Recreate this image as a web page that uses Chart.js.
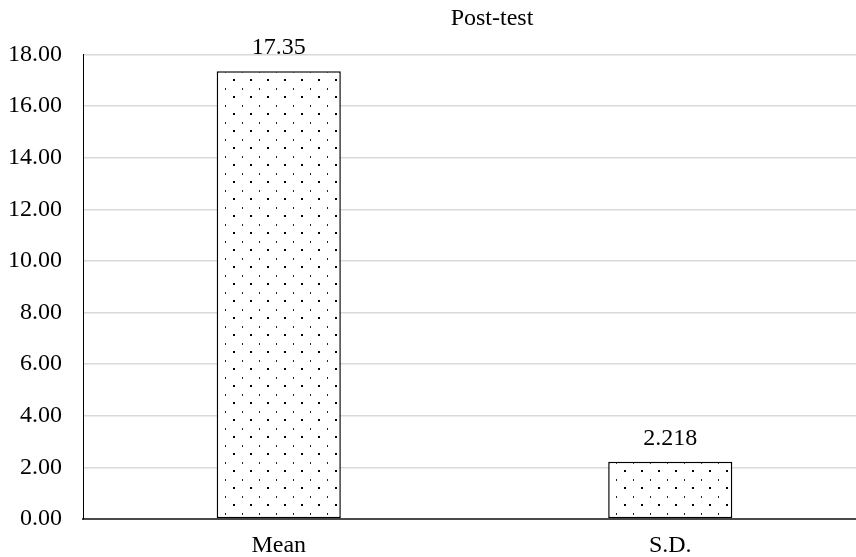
<!DOCTYPE html>
<html>
<head>
<meta charset="utf-8">
<script src="https://cdn.jsdelivr.net/npm/chart.js@4/dist/chart.umd.min.js"></script>
<style>
  html, body { margin: 0; padding: 0; background: #fff; overflow: hidden; }
  #wrap { width: 866px; height: 557px; }
</style>
</head>
<body>
<div id="wrap"><canvas id="myChart" width="866" height="557"></canvas></div>
<script>
const chartTitle = "Post-test";
const categories = ["Mean", "S.D."];
const values = [17.35, 2.218];
const valueLabels = ["17.35", "2.218"];
const yMin = 0;
const yMax = 18;
const yStep = 2;

const fontFamily = "'Liberation Serif', 'Times New Roman', serif";

// dotted fill like the office "5%" pattern
const makePattern = () => {
  const c = document.createElement("canvas");
  c.width = 17;
  c.height = 17;
  const g = c.getContext("2d");
  g.fillStyle = "#fff";
  g.fillRect(0, 0, 17, 17);
  g.fillStyle = "#222";
  g.fillRect(4, 3, 1, 2);
  g.fillStyle = "#000";
  g.fillRect(12, 11, 2, 2);
  return g.createPattern(c, "repeat");
};

const valueLabelPlugin = {
  id: "valueLabels",
  afterDatasetsDraw(chart) {
    const ctx = chart.ctx;
    const meta = chart.getDatasetMeta(0);
    ctx.save();
    ctx.font = "24px " + fontFamily;
    ctx.fillStyle = "#000";
    ctx.textAlign = "center";
    ctx.textBaseline = "alphabetic";
    meta.data.forEach((bar, i) => {
      ctx.fillText(valueLabels[i], bar.x, bar.y - 17);
    });
    ctx.restore();
  },
};

// the original chart was wider than the crop, so its title sits right of centre
const titleShift = {
  id: "titleShift",
  afterLayout(chart) {
    const t = chart.titleBlock;
    if (t) {
      t.left = 118;
      t.right = 866;
    }
  },
};

var ctx = document.getElementById("myChart").getContext("2d");
var myChart = new Chart(ctx, {
  type: "bar",
  data: {
    labels: categories,
    datasets: [
      {
        label: chartTitle,
        data: values,
        backgroundColor: makePattern(),
        borderColor: "#000",
        borderWidth: 1.5,
        borderSkipped: false,
        barPercentage: 0.317,
        categoryPercentage: 1,
      },
    ],
  },
  options: {
    responsive: false,
    animation: false,
    layout: { padding: 0 },
    plugins: {
      legend: { display: false },
      tooltip: { enabled: false },
      title: {
        display: true,
        text: chartTitle,
        color: "#000",
        font: { family: fontFamily, size: 24, weight: "normal", lineHeight: 1.2 },
        padding: { top: 4, bottom: 21.7 },
      },
    },
    scales: {
      x: {
        grid: { display: false, drawTicks: false },
        border: { display: true, color: "#4a4a4a", width: 2 },
        ticks: {
          color: "#000",
          padding: 15,
          font: { family: fontFamily, size: 24, lineHeight: 1 },
        },
        afterFit: (scale) => {
          scale.height = 38;
        },
      },
      y: {
        min: yMin,
        max: yMax,
        grid: { color: "#d9d9d9", lineWidth: 1.5, drawTicks: false },
        border: { display: true, color: "#000", width: 1 },
        ticks: {
          stepSize: yStep,
          color: "#000",
          padding: 21,
          font: { family: fontFamily, size: 24, lineHeight: 1 },
          callback: (v) => Number(v).toFixed(2),
        },
        afterFit: (scale) => {
          scale.width = 83;
        },
      },
    },
  },
  plugins: [valueLabelPlugin, titleShift],
});
</script>
</body>
</html>
